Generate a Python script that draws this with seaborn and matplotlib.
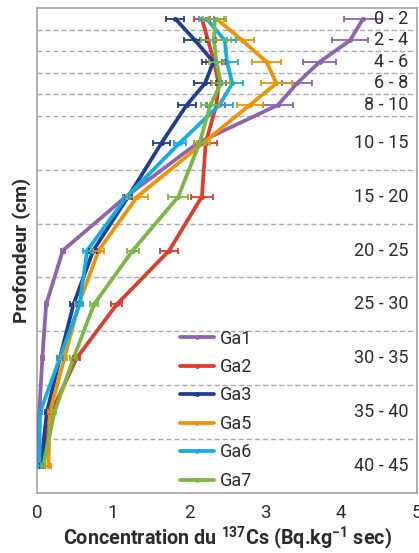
import numpy as np
import pandas as pd
import matplotlib
matplotlib.use("Agg")
import matplotlib.pyplot as plt
from matplotlib.ticker import MultipleLocator
import seaborn as sns

# Soil layers (cm): labels, mid-depths and layer boundaries
layers = ["0 - 2", "2 - 4", "4 - 6", "6 - 8", "8 - 10", "10 - 15",
          "15 - 20", "20 - 25", "25 - 30", "30 - 35", "35 - 40", "40 - 45"]
layer_mid = [1, 3, 5, 7, 9, 12.5, 17.5, 22.5, 27.5, 32.5, 37.5, 42.5]
layer_bounds = [2, 4, 6, 8, 10, 15, 20, 25, 30, 35, 40]

sites = ["Ga1", "Ga2", "Ga3", "Ga5", "Ga6", "Ga7"]

# 137Cs concentration (Bq/kg dry) per layer, and measurement uncertainty
ga1 = [4.29, 4.12, 3.72, 3.42, 3.17, 2.12, 1.17, 0.34, 0.12, 0.07, 0.03, 0.00]
ga2 = [2.17, 2.25, 2.33, 2.39, 2.36, 2.22, 2.17, 1.74, 1.05, 0.52, 0.19, 0.06]
ga3 = [1.82, 2.08, 2.32, 2.21, 1.97, 1.64, 1.20, 0.74, 0.48, 0.30, 0.13, 0.05]
ga5 = [2.36, 2.70, 3.02, 3.15, 2.80, 2.19, 1.32, 0.81, 0.55, 0.36, 0.17, 0.15]
ga6 = [2.23, 2.47, 2.50, 2.57, 2.40, 1.88, 1.18, 0.66, 0.56, 0.30, 0.04, 0.03]
ga7 = [2.34, 2.33, 2.36, 2.42, 2.28, 2.14, 1.86, 1.26, 0.75, 0.48, 0.23, 0.08]

err1 = [0.25, 0.24, 0.22, 0.20, 0.20, 0.05, 0.04, 0.03, 0.02, 0.02, 0.01, 0.02]
err2 = [0.10, 0.10, 0.10, 0.10, 0.12, 0.15, 0.14, 0.12, 0.07, 0.05, 0.02, 0.02]
err3 = [0.12, 0.14, 0.15, 0.15, 0.12, 0.11, 0.05, 0.05, 0.05, 0.04, 0.02, 0.02]
err5 = [0.10, 0.15, 0.19, 0.20, 0.17, 0.08, 0.14, 0.07, 0.05, 0.04, 0.02, 0.04]
err6 = [0.10, 0.15, 0.15, 0.14, 0.18, 0.08, 0.05, 0.06, 0.05, 0.04, 0.02, 0.02]
err7 = [0.15, 0.17, 0.10, 0.12, 0.12, 0.08, 0.13, 0.08, 0.05, 0.05, 0.02, 0.02]

values = [ga1, ga2, ga3, ga5, ga6, ga7]
errors = [err1, err2, err3, err5, err6, err7]
palette = ["#8E63B0", "#E53A2A", "#1D3F93", "#F39200", "#13ADE6", "#79B943"]

x_ticks = [0, 1, 2, 3, 4, 5]

df = pd.DataFrame({
    "site": np.repeat(sites, len(layer_mid)),
    "depth": np.tile(layer_mid, len(sites)),
    "conc": np.concatenate(values),
    "err": np.concatenate(errors),
})

sns.set_style("white")
plt.rcParams["font.family"] = ["Roboto", "DejaVu Sans"]
plt.rcParams["mathtext.fontset"] = "custom"
plt.rcParams["mathtext.rm"] = "Roboto"
plt.rcParams["mathtext.bf"] = "Roboto:bold"

TEXT = "#2b2b2b"
FRAME = "#a3a3a3"

fig = plt.figure(figsize=(4.19, 5.53), dpi=100)
ax = fig.add_axes([37 / 419, 60 / 553, 380 / 419, 485 / 553])

# layer boundaries
ax.hlines(layer_bounds, 0, 5, colors="#aaaaaa", linewidth=1.0,
          linestyles=(0, (3.6, 2.2)), zorder=1)

sns.lineplot(data=df, x="conc", y="depth", hue="site", hue_order=sites,
             palette=palette, orient="y", sort=True, estimator=None,
             marker="o", markersize=3.5, markeredgewidth=0,
             linewidth=2.7, ax=ax, zorder=3)

for (site, grp), color in zip(df.groupby("site", sort=False), palette):
    ax.errorbar(grp["conc"], grp["depth"], xerr=grp["err"], fmt="none",
                ecolor=color, elinewidth=1.3, capsize=2.5, capthick=1.3,
                zorder=4)

ax.set_xlim(0, 5)
ax.set_ylim(45, 0)
ax.set_xticks(x_ticks)
ax.xaxis.set_minor_locator(MultipleLocator(0.2))
ax.set_yticks([])
ax.tick_params(axis="x", which="both", direction="out", length=3,
               width=1.0, color=FRAME, labelsize=13.5, labelcolor=TEXT, pad=5)

for s in ax.spines.values():
    s.set_visible(True)
    s.set_color(FRAME)
    s.set_linewidth(1.2)

for lab, d in zip(layers, layer_mid):
    ax.text(0.977, d, lab, transform=ax.get_yaxis_transform(),
            ha="right", va="center", fontsize=13, color=TEXT, zorder=5)

ax.set_xlabel(r"Concentration du $^{\mathbf{137}}$Cs (Bq.kg$^{\mathbf{-1}}$ sec)",
              fontsize=14.2, fontweight="bold", color=TEXT)
ax.xaxis.set_label_coords(0.5, -0.066)
ax.set_ylabel("Profondeur (cm)", fontsize=14, fontweight="bold", color=TEXT)
ax.yaxis.set_label_coords(-0.015, 0.5)

sns.move_legend(ax, "upper left", bbox_to_anchor=(0.376, 0.337),
                frameon=False, title="", fontsize=13, handlelength=1.9,
                handletextpad=0.3, labelspacing=0.58, borderaxespad=0,
                borderpad=0)
for t in ax.get_legend().get_texts():
    t.set_color(TEXT)

fig.savefig("out.png", dpi=100)
